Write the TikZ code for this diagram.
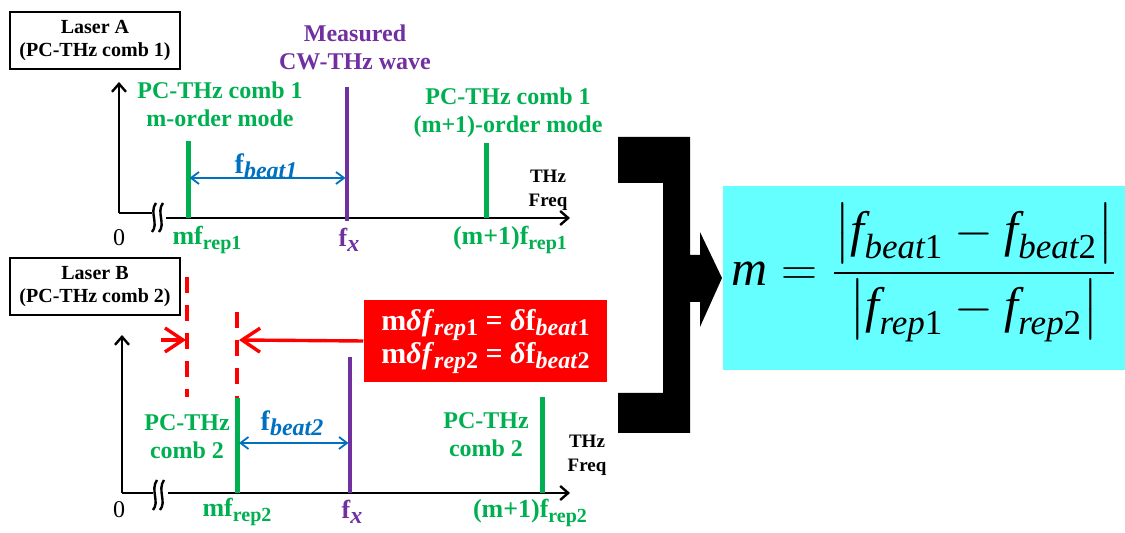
\RequirePackage{fix-cm}
\documentclass[tikz,border=0pt]{standalone}
\usepackage{amsmath}
\usepackage{fontspec}
\setmainfont{LiberationSerif}[Extension=.ttf, UprightFont=*-Regular, BoldFont=*-Bold, ItalicFont=*-Italic, BoldItalicFont=*-BoldItalic]
\usepackage{tikz}
\usetikzlibrary{arrows.meta}
\definecolor{combgreen}{RGB}{0,176,80}
\definecolor{cwpurple}{RGB}{112,48,160}
\definecolor{beatblue}{RGB}{0,112,192}
\definecolor{boxcyan}{RGB}{102,255,255}
\newcommand{\lowsub}[2][10]{\raisebox{-2.5pt}{\fontsize{#1}{#1}\selectfont #2}}
\tikzset{every picture/.style={line width=0.75pt}}
\tikzset{
  labbox/.style={draw, line width=0.6pt, minimum width=85pt, minimum height=28.5pt, align=center, inner sep=1pt, font=\fontsize{10}{11.5}\selectfont\bfseries},
  combtxt/.style={text=combgreen, align=center, inner sep=0pt, font=\fontsize{12}{14}\selectfont\bfseries},
  freqtxt/.style={inner sep=0pt, font=\fontsize{13}{15}\selectfont\bfseries},
  cwtxt/.style={text=cwpurple, align=center, inner sep=0pt, font=\fontsize{12}{14}\selectfont\bfseries},
  beattxt/.style={text=beatblue, inner sep=0pt, font=\fontsize{14}{16}\selectfont\bfseries},
  thztxt/.style={align=center, inner sep=0pt, font=\fontsize{9.5}{12}\selectfont\bfseries},
  zerotxt/.style={inner sep=0pt, font=\fontsize{12}{14}\selectfont},
  axis/.style={line width=1.2pt, -{Straight Barb[length=4pt,width=7pt]}},
  axisline/.style={line width=1.2pt},
  combbar/.style={combgreen, line width=2.5pt},
  cwbar/.style={cwpurple, line width=2pt},
  beatarr/.style={beatblue, line width=0.9pt, {Straight Barb[length=4pt,width=6pt]}-{Straight Barb[length=4pt,width=6pt]}},
  shiftline/.style={red, line width=1.6pt, dash pattern=on 8pt off 6pt},
  shiftarr/.style={red, line width=1.7pt, -{Straight Barb[length=9pt,width=12pt]}},
}

\begin{document}
\begin{tikzpicture}[x=0.5pt,y=0.5pt,yscale=-1,xscale=1]
    \useasboundingbox (0,0) rectangle (1125,533);
    % laser A
    \node[labbox] (lasA) at (95,40.5) {Laser A\\(PC-THz comb 1)};
    \coordinate (oA) at (119,213);
    \coordinate (yA) at (119,82);
    \coordinate (brkA) at (152,213);
    \coordinate (xA0) at (166,218);
    \coordinate (xA) at (570,218);
    \draw[axis] (oA) -- (yA);
    \draw[axisline] (oA) -- (brkA);
    \draw[axis] (xA0) -- (xA);
    \draw[axisline] (156,203) .. controls (149,212) and (159,224) .. (152,232);
    \draw[axisline] (163,203) .. controls (156,212) and (166,224) .. (159,232);
    \coordinate (mA) at (188,218);   \coordinate (mAt) at (188,141);
    \coordinate (fxA) at (347,221);  \coordinate (fxAt) at (347,87);
    \coordinate (nA) at (486,218);   \coordinate (nAt) at (486,143);
    \draw[combbar] (mA) -- (mAt);
    \draw[cwbar] (fxA) -- (fxAt);
    \draw[combbar] (nA) -- (nAt);
    \coordinate (bA1) at (189.5,178);
    \coordinate (bA2) at (345.5,178);
    \draw[beatarr] (bA1) -- (bA2);
    \node[combtxt] (combAm) at (220,104) {PC-THz comb 1\\m-order mode};
    \node[cwtxt] (cwlbl) at (355,47) {Measured\\CW-THz wave};
    \node[combtxt] (combAn) at (508,113) {PC-THz comb 1\\(m+1)-order mode};
    \node[thztxt] (thzA) at (548,190) {THz\\Freq};
    \node[beattxt] (beatA) at (266,166) {f\lowsub[12]{\textit{beat1}}};
    \node[zerotxt] (zeroA) at (119,238) {0};
    \node[freqtxt, text=combgreen] (mrepA) at (207,240) {mf\lowsub{rep1}};
    \node[freqtxt, text=cwpurple] (fxlA) at (349,240) {f\lowsub[12]{\textit{x}}};
    \node[freqtxt, text=combgreen] (nrepA) at (510,240) {(m+1)f\lowsub{rep1}};
    % laser B
    \node[labbox] (lasB) at (95,286.5) {Laser B\\(PC-THz comb 2)};
    \coordinate (oB) at (122,493);
    \coordinate (yB) at (122,335);
    \coordinate (brkB) at (153,493);
    \coordinate (xB0) at (168,493);
    \coordinate (xB) at (570,493);
    \draw[axis] (oB) -- (yB);
    \draw[axisline] (oB) -- (brkB);
    \draw[axis] (xB0) -- (xB);
    \draw[axisline] (157,480) .. controls (150,490) and (160,502) .. (153,510);
    \draw[axisline] (164,480) .. controls (157,490) and (167,502) .. (160,510);
    \coordinate (mB) at (237,493);   \coordinate (mBt) at (237,398);
    \coordinate (fxB) at (350,493);  \coordinate (fxBt) at (350,357);
    \coordinate (nB) at (542,493);   \coordinate (nBt) at (542,397);
    \draw[combbar] (mB) -- (mBt);
    \draw[cwbar] (fxB) -- (fxBt);
    \draw[combbar] (nB) -- (nBt);
    \coordinate (bB1) at (239,443);
    \coordinate (bB2) at (348.5,443);
    \draw[beatarr] (bB1) -- (bB2);
    % shift of the m-order mode
    \coordinate (dA) at (187,277);   \coordinate (dAb) at (187,397);
    \coordinate (dB) at (237,312);   \coordinate (dBb) at (237,398);
    \draw[shiftline] (dA) -- (dAb);
    \draw[shiftline] (dB) -- (dBb);
    \node[fill=red, text=white, minimum width=121.5pt, minimum height=41pt, align=center, inner sep=0pt, font=\fontsize{15}{16.5}\selectfont\bfseries] (shbox) at (485.5,341)
      {m\textit{δf}\lowsub[12]{\textit{rep}1} = \textit{δ}f\lowsub[12]{\textit{beat}1}\\m\textit{δf}\lowsub[12]{\textit{rep}2} = \textit{δ}f\lowsub[12]{\textit{beat}2}};
    \coordinate (sA0) at (161,340);
    \coordinate (sA) at (186,340);
    \coordinate (sB) at (239,340);
    \draw[shiftarr] (sA0) -- (sA);
    \draw[shiftarr] (shbox.west) -- (sB);
    \node[combtxt] (combBm) at (187,437) {PC-THz\\comb 2};
    \node[combtxt] (combBn) at (486,435) {PC-THz\\comb 2};
    \node[thztxt] (thzB) at (587,455) {THz\\Freq};
    \node[beattxt] (beatB) at (292,423) {f\lowsub[12]{\textit{beat2}}};
    \node[zerotxt] (zeroB) at (119,510) {0};
    \node[freqtxt, text=combgreen] (mrepB) at (237,512) {mf\lowsub{rep2}};
    \node[freqtxt, text=cwpurple] (fxlB) at (352,512) {f\lowsub[12]{\textit{x}}};
    \node[freqtxt, text=combgreen] (nrepB) at (530,513) {(m+1)f\lowsub{rep2}};
    % bracket and result
    \fill (618,137) -- (690,137) -- (690,255) -- (700,255) -- (700,232) -- (722,278) -- (700,327) -- (700,302) -- (690,302) -- (690,433) -- (618,433) -- (618,393) -- (663,393) -- (663,183) -- (618,183) -- cycle;
    \node[fill=boxcyan, minimum width=201pt, minimum height=92pt, inner sep=0pt] (resbox) at (924,278) {};
    \node[inner sep=0pt, font=\fontsize{25}{30}\selectfont] (res) at (924,273)
      {$\displaystyle \textit{m} = \frac{\left|\vphantom{\textit{f}_{\textit{rep}}}\textit{f}_{\textit{beat}\mathrm{1}} - \textit{f}_{\textit{beat}\mathrm{2}}\right|}{\left|\vphantom{\textit{f}_{\textit{rep}}}\textit{f}_{\textit{rep}\mathrm{1}} - \textit{f}_{\textit{rep}\mathrm{2}}\right|}$};
\end{tikzpicture}
\end{document}
